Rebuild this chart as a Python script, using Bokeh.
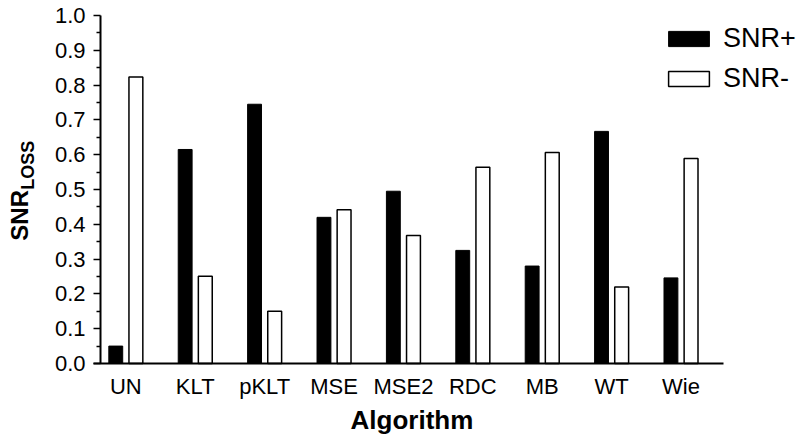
import math
from bokeh.plotting import figure
from bokeh.models import (Range1d, FixedTicker, NumeralTickFormatter, Legend, LegendItem,
                          Label, ColumnDataSource, LinearAxis)
from bokeh.embed import file_html
from bokeh.resources import INLINE

categories = ["UN", "KLT", "pKLT", "MSE", "MSE2", "RDC", "MB", "WT", "Wie"]
snr_plus = [0.05, 0.615, 0.745, 0.42, 0.495, 0.325, 0.28, 0.667, 0.246]
snr_minus = [0.823, 0.251, 0.15, 0.442, 0.368, 0.564, 0.606, 0.22, 0.589]
y_ticks = [0.0, 0.1, 0.2, 0.3, 0.4, 0.5, 0.6, 0.7, 0.8, 0.9, 1.0]
y_minor = [0.05, 0.15, 0.25, 0.35, 0.45, 0.55, 0.65, 0.75, 0.85, 0.95]

FONT = "Liberation Sans"
idx = list(range(len(categories)))
off = 0.145
src = ColumnDataSource(dict(
    xp=[i - off for i in idx], xm=[i + off for i in idx],
    plus=snr_plus, minus=snr_minus))

# the frame spans the whole canvas; axes are fixed where the original plot area lay
x_start, x_end = -1.806, 9.722
x_axis_start, x_axis_end = -0.365, 8.61
y_start, y_end = -0.2213, 1.0431
y_axis_start, y_axis_end = 0.0, 1.0

p = figure(width=800, height=440, output_backend="svg", toolbar_location=None,
           x_range=Range1d(x_start, x_end), y_range=Range1d(y_start, y_end),
           x_axis_location=None, y_axis_location=None, min_border=0)
p.outline_line_color = None
p.xgrid.visible = False
p.ygrid.visible = False
p.background_fill_color = "white"
p.border_fill_color = "white"

rp = p.vbar(x="xp", top="plus", width=0.2, bottom=0, source=src,
            fill_color="black", line_color="black", line_width=1)
rm = p.vbar(x="xm", top="minus", width=0.2, bottom=0, source=src,
            fill_color="white", line_color="black", line_width=1.5)

# x axis at y = 0
xa = LinearAxis(fixed_location=y_axis_start)
xa.bounds = (x_axis_start - 0.1, x_axis_end)
xa.ticker = FixedTicker(ticks=idx)
xa.major_label_overrides = {i: c for i, c in zip(idx, categories)}
xa.major_tick_line_color = None
xa.minor_tick_line_color = None
xa.axis_line_width = 2
xa.major_label_text_font = FONT
xa.major_label_text_font_size = "22px"
xa.major_label_text_color = "black"
xa.major_label_standoff = 5
p.add_layout(xa, "below")

# y axis at the left end of the x axis
ya = LinearAxis(fixed_location=x_axis_start)
ya.bounds = (y_axis_start, y_axis_end)
ya.ticker = FixedTicker(ticks=y_ticks, minor_ticks=y_minor)
ya.formatter = NumeralTickFormatter(format="0.0")
ya.axis_line_width = 2
ya.major_tick_line_width = 1.5
ya.minor_tick_line_width = 1.5
ya.major_tick_in = 0
ya.major_tick_out = 7
ya.minor_tick_in = 0
ya.minor_tick_out = 4
ya.major_label_text_font = FONT
ya.major_label_text_font_size = "22px"
ya.major_label_text_color = "black"
ya.major_label_standoff = 8
p.add_layout(ya, "left")

# x axis title
p.add_layout(Label(x=(x_axis_start + x_axis_end) / 2, y=-0.1638, text="Algorithm",
                   text_font=FONT, text_font_style="bold", text_font_size="26px",
                   text_align="center", text_baseline="middle", text_color="black"))

# y axis title: SNR with subscript LOSS
p.add_layout(Label(x=19, y=0.353, x_units="screen", y_units="data", text="SNR",
                   angle=math.pi / 2, text_font=FONT, text_font_style="bold",
                   text_font_size="24px", text_align="left", text_baseline="middle",
                   text_color="black"))
p.add_layout(Label(x=27, y=0.499, x_units="screen", y_units="data", text="LOSS",
                   angle=math.pi / 2, text_font=FONT, text_font_style="bold",
                   text_font_size="18px", text_align="left", text_baseline="middle",
                   text_color="black"))

legend = Legend(items=[LegendItem(label="SNR+", renderers=[rp]),
                       LegendItem(label="SNR-", renderers=[rm])],
                location=(663, 346), orientation="vertical")
legend.label_text_font = FONT
legend.label_text_font_size = "27px"
legend.label_text_color = "black"
legend.glyph_width = 51
legend.glyph_height = 19
legend.label_standoff = 9
legend.spacing = 9
legend.padding = 0
legend.margin = 0
legend.border_line_color = None
legend.background_fill_alpha = 0
p.add_layout(legend, "center")

open("out.html", "w").write(file_html(p, INLINE))
